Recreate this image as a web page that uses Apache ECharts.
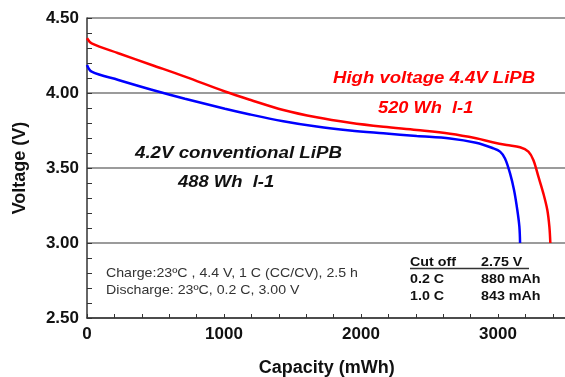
<!DOCTYPE html>
<html>
<head>
<meta charset="utf-8">
<script src="https://cdn.jsdelivr.net/npm/echarts@6/dist/echarts.min.js"></script>
<style>html,body{margin:0;padding:0;background:#fff}#c{width:565px;height:377px}</style>
</head>
<body>
<div id="c"></div>
<script>
// Data
const highVoltageCapacity = [0, 34, 229, 472, 715, 1007, 1190, 1433, 1676, 1920, 2163, 2407, 2650, 2840, 2960, 3063, 3161, 3222, 3258, 3295, 3331, 3360, 3375, 3382];
const highVoltageVoltage  = [4.365, 4.331, 4.265, 4.187, 4.109, 4.010, 3.955, 3.887, 3.838, 3.802, 3.775, 3.753, 3.728, 3.698, 3.672, 3.653, 3.638, 3.609, 3.553, 3.442, 3.331, 3.22, 3.109, 3.00];
const conventionalCapacity = [0, 34, 229, 472, 715, 1007, 1190, 1433, 1676, 1920, 2163, 2407, 2650, 2840, 2966, 3015, 3051, 3088, 3117, 3141, 3156, 3161];
const conventionalVoltage  = [4.187, 4.142, 4.087, 4.022, 3.962, 3.895, 3.857, 3.812, 3.776, 3.750, 3.731, 3.713, 3.697, 3.668, 3.631, 3.609, 3.564, 3.464, 3.353, 3.22, 3.109, 3.00];
const xLabels = [0, 1000, 2000, 3000];
const yLabels = [2.5, 3.0, 3.5, 4.0, 4.5];
const annotations = {
  highTitle: 'High voltage 4.4V LiPB',
  highDensity: '520 Wh  l-1',
  convTitle: '4.2V conventional LiPB',
  convDensity: '488 Wh  l-1',
  charge: 'Charge:23ºC , 4.4 V, 1 C (CC/CV), 2.5 h',
  discharge: 'Discharge: 23ºC, 0.2 C, 3.00 V'
};
const tableRows = [['Cut off', '2.75 V'], ['0.2 C', '880 mAh'], ['1.0 C', '843 mAh']];

const FF = '"Liberation Sans", Arial, sans-serif';
const zip = (xs, ys) => xs.map((x, i) => [x, ys[i]]);

function txt(text, x, y, opts) {
  return {
    type: 'text', x: x, y: y, scaleX: opts.scaleX || 1, z: 100,
    style: {
      text: text, x: 0, y: 0,
      font: (opts.style || '') + ' ' + (opts.weight || 'normal') + ' ' + opts.size + 'px ' + FF,
      fill: opts.color || '#000', align: 'left', verticalAlign: 'middle'
    }
  };
}

const graphics = [
  txt(annotations.highTitle, 333, 79, {style: 'italic', weight: 'bold', size: 16, color: '#ff0000', scaleX: 1.16}),
  txt(annotations.highDensity, 378, 109, {style: 'italic', weight: 'bold', size: 16, color: '#ff0000', scaleX: 1.14}),
  txt(annotations.convTitle, 135, 154, {style: 'italic', weight: 'bold', size: 16, color: '#111', scaleX: 1.17}),
  txt(annotations.convDensity, 178, 183, {style: 'italic', weight: 'bold', size: 16, color: '#111', scaleX: 1.15}),
  txt(annotations.charge, 106, 273, {size: 13, color: '#333', scaleX: 1.09}),
  txt(annotations.discharge, 106, 290, {size: 13, color: '#333', scaleX: 1.09}),
  {type: 'line', z: 100, shape: {x1: 410, y1: 268.5, x2: 529, y2: 268.5}, style: {stroke: '#333', lineWidth: 1.5}}
];
const rowY = [262, 279, 296];
tableRows.forEach((r, i) => {
  graphics.push(txt(r[0], 410, rowY[i], {weight: 'bold', size: 13, color: '#111', scaleX: 1.1}));
  graphics.push(txt(r[1], 481, rowY[i], {weight: 'bold', size: 13, color: '#111', scaleX: 1.1}));
});

const chart = echarts.init(document.getElementById('c'), null, {renderer: 'canvas'});
chart.setOption({
  animation: false,
  backgroundColor: '#fff',
  grid: {left: 87, top: 18, width: 479.5, height: 300, containLabel: false, outerBoundsMode: 'none'},
  xAxis: {
    type: 'value', min: 0, max: 3500, interval: 200,
    name: 'Capacity (mWh)', nameLocation: 'middle', nameGap: 41,
    nameTextStyle: {fontFamily: FF, fontWeight: 'bold', fontSize: 18, color: '#111'},
    axisLine: {show: true, lineStyle: {color: '#333', width: 1.5}},
    axisTick: {show: true, inside: true, length: 4, lineStyle: {color: '#333', width: 1}},
    splitLine: {show: false},
    axisLabel: {
      fontFamily: FF, fontWeight: 'bold', fontSize: 17, color: '#111', margin: 8,
      showMaxLabel: false,
      formatter: v => (xLabels.indexOf(v) >= 0 ? String(v) : '')
    }
  },
  yAxis: {
    type: 'value', min: 2.5, max: 4.5, interval: 0.5,
    name: 'Voltage (V)', nameLocation: 'middle', nameGap: 58, nameRotate: 90,
    nameTextStyle: {fontFamily: FF, fontWeight: 'bold', fontSize: 18, color: '#111'},
    axisLine: {show: true, lineStyle: {color: '#333', width: 1.5}},
    axisTick: {show: true, inside: true, length: 5, lineStyle: {color: '#333', width: 1}},
    minorTick: {show: true, splitNumber: 5, length: 5, lineStyle: {color: '#333', width: 1}},
    splitLine: {show: true, lineStyle: {color: '#7a7a7a', width: 1.5}},
    axisLabel: {
      fontFamily: FF, fontWeight: 'bold', fontSize: 17, color: '#111', margin: 8,
      formatter: v => (yLabels.some(t => Math.abs(t - v) < 1e-6) ? v.toFixed(2) : '')
    }
  },
  series: [
    {
      type: 'line', name: 'High voltage 4.4V LiPB', data: zip(highVoltageCapacity, highVoltageVoltage),
      showSymbol: false, symbol: 'none', smooth: 0.35,
      lineStyle: {color: '#ff0000', width: 2.5}, z: 5
    },
    {
      type: 'line', name: '4.2V conventional LiPB', data: zip(conventionalCapacity, conventionalVoltage),
      showSymbol: false, symbol: 'none', smooth: 0.35,
      lineStyle: {color: '#0000ff', width: 2.5}, z: 6
    }
  ],
  graphic: graphics
});
</script>
</body>
</html>
